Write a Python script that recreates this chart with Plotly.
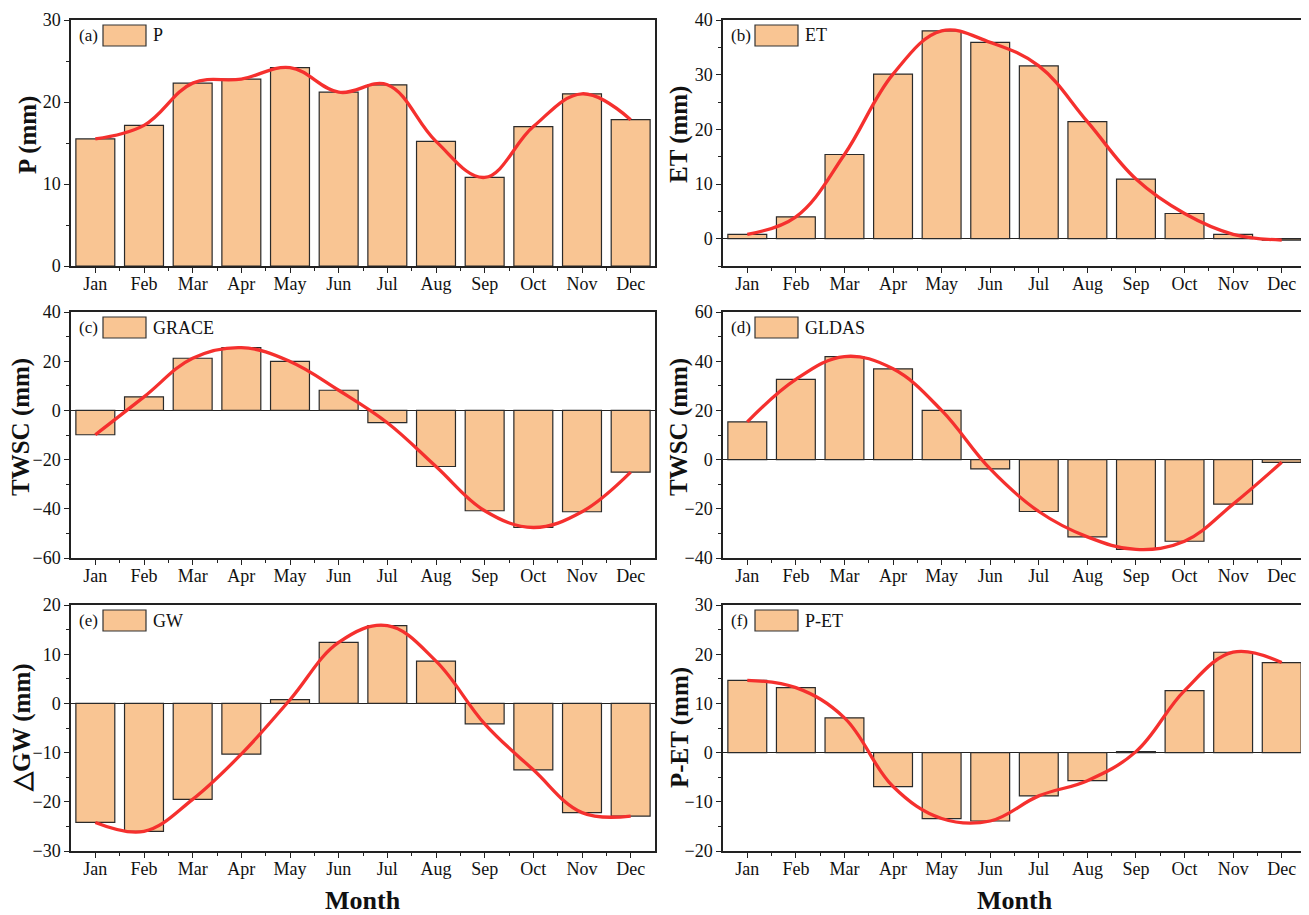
import plotly.graph_objects as go

MONTHS = ["Jan", "Feb", "Mar", "Apr", "May", "Jun", "Jul", "Aug", "Sep", "Oct", "Nov", "Dec"]

P_VALUES = [15.5, 17.15, 22.3, 22.8, 24.2, 21.2, 22.1, 15.2, 10.8, 17.0, 21.0, 17.85]
ET_VALUES = [0.8, 4.0, 15.4, 30.1, 38.0, 35.9, 31.6, 21.4, 10.9, 4.6, 0.8, -0.25]
GRACE_VALUES = [-9.9, 5.5, 21.2, 25.5, 19.9, 8.2, -5.0, -22.8, -40.8, -47.6, -41.2, -25.1]
GLDAS_VALUES = [15.3, 32.6, 41.9, 36.9, 20.0, -3.8, -21.1, -31.4, -36.5, -33.2, -18.1, -1.1]
GW_VALUES = [-24.2, -26.0, -19.5, -10.3, 0.75, 12.4, 15.8, 8.6, -4.15, -13.5, -22.2, -22.9]
PET_VALUES = [14.7, 13.2, 7.06, -6.9, -13.4, -13.9, -8.8, -5.7, 0.2, 12.6, 20.4, 18.3]

PANEL_TAGS = ["(a)", "(b)", "(c)", "(d)", "(e)", "(f)"]
SERIES_NAMES = ["P", "ET", "GRACE", "GLDAS", "GW", "P-ET"]
Y_TITLES = ["P (mm)", "ET (mm)", "TWSC (mm)", "TWSC (mm)", "\u25b3GW (mm)", "P-ET (mm)"]
Y_RANGES = [(0, 30), (-5, 40), (-60, 40), (-40, 60), (-30, 20), (-20, 30)]
Y_MAJOR = [10, 10, 20, 20, 10, 10]
SERIES = [P_VALUES, ET_VALUES, GRACE_VALUES, GLDAS_VALUES, GW_VALUES, PET_VALUES]

# page body has an 8px margin; work in reference pixels and shift
OFF = 8
W, H = 1309 - OFF, 915 - OFF
FONT = "Liberation Serif"
BAR_COLOR = "#F9C593"
LINE_COLOR = "#F5302E"
AX = "#222222"

# panel pixel boxes in reference coordinates
COLS = [(71, 655), (723, 1306)]
ROWS = [(20, 266), (312, 558), (605, 851)]
YTITLE_X = [[28, 679], [21, 679], [22, 680]]
YTITLE_DY = [-8, -8, 0]


def px(v):
    return (v - OFF) / W


def py(v):
    return 1 - (v - OFF) / H


fig = go.Figure()
x = list(range(len(MONTHS)))

for i, vals in enumerate(SERIES):
    r, c = divmod(i, 2)
    n = i + 1
    xa = "x" if n == 1 else f"x{n}"
    ya = "y" if n == 1 else f"y{n}"
    xkey = "xaxis" if n == 1 else f"xaxis{n}"
    ykey = "yaxis" if n == 1 else f"yaxis{n}"
    l, rr = COLS[c]
    t, b = ROWS[r]

    fig.add_trace(go.Bar(
        x=x, y=vals, width=0.8, xaxis=xa, yaxis=ya,
        marker=dict(color=BAR_COLOR, line=dict(color="#2a2a2a", width=1.2)),
        showlegend=False, name=SERIES_NAMES[i],
    ))
    fig.add_trace(go.Scatter(
        x=x, y=vals, mode="lines", xaxis=xa, yaxis=ya,
        line=dict(color=LINE_COLOR, width=3.3, shape="spline", smoothing=1.1),
        showlegend=False, hoverinfo="skip",
    ))

    ymin, ymax = Y_RANGES[i]
    fig.layout[xkey] = dict(
        domain=[px(l), px(rr)], anchor=ya, range=[-0.5, 11.5],
        tickmode="array", tickvals=x, ticktext=MONTHS,
        ticks="outside", ticklen=5, tickwidth=1.3, tickcolor=AX,
        ticklabelstandoff=-4,
        minor=dict(tickmode="array", tickvals=[v + 0.5 for v in x[:-1]],
                   ticks="outside", ticklen=3, tickwidth=1.2, tickcolor=AX),
        showline=True, linecolor=AX, linewidth=1.5, mirror=True,
        showgrid=False, zeroline=False, automargin=False,
        tickfont=dict(family=FONT, size=18, color="#111"),
        fixedrange=True,
    )
    fig.layout[ykey] = dict(
        domain=[py(b), py(t)], anchor=xa, range=[ymin, ymax],
        tickmode="linear", tick0=0, dtick=Y_MAJOR[i],
        ticks="outside", ticklen=5, tickwidth=1.3, tickcolor=AX,
        minor=dict(dtick=Y_MAJOR[i] / 2, ticks="outside", ticklen=3,
                   tickwidth=1.2, tickcolor=AX),
        showline=True, linecolor=AX, linewidth=1.5, mirror=True,
        showgrid=False, automargin=False,
        zeroline=ymin < 0, zerolinecolor=AX, zerolinewidth=1.2,
        tickfont=dict(family=FONT, size=18, color="#111"),
        fixedrange=True,
    )

    # y-axis title
    fig.add_annotation(
        x=px(YTITLE_X[r][c]), y=py((t + b) / 2 + YTITLE_DY[r]),
        xref="paper", yref="paper", text=f"<b>{Y_TITLES[i]}</b>",
        textangle=-90, showarrow=False, xanchor="center", yanchor="middle",
        font=dict(family=FONT, size=25, color="#111"),
    )

    pw, ph = rr - l, b - t
    # legend-like key inside each panel
    fig.add_annotation(
        x=6 / pw, y=1 - 15.5 / ph, xref=f"{xa} domain", yref=f"{ya} domain",
        text=PANEL_TAGS[i], showarrow=False, xanchor="left", yanchor="middle",
        font=dict(family=FONT, size=17, color="#111"),
    )
    fig.add_shape(
        type="rect", xref=f"{xa} domain", yref=f"{ya} domain",
        x0=32 / pw, x1=75 / pw, y0=1 - 26 / ph, y1=1 - 5 / ph,
        fillcolor=BAR_COLOR, line=dict(color="#333", width=1.2), layer="above",
    )
    fig.add_annotation(
        x=80 / pw, y=1 - 15.5 / ph, xref=f"{xa} domain", yref=f"{ya} domain",
        text=SERIES_NAMES[i], showarrow=False, xanchor="left", yanchor="middle",
        font=dict(family=FONT, size=18, color="#111"),
    )

# x-axis titles under the bottom row
for c in range(2):
    l, rr = COLS[c]
    fig.add_annotation(
        x=px((l + rr) / 2), y=py(900), xref="paper", yref="paper",
        text="<b>Month</b>", showarrow=False, xanchor="center", yanchor="middle",
        font=dict(family=FONT, size=26, color="#111"),
    )

fig.update_layout(
    width=W, height=H,
    margin=dict(l=0, r=0, t=0, b=0),
    paper_bgcolor="white", plot_bgcolor="white",
    bargap=0.2,
    font=dict(family=FONT, color="#111"),
)

fig.write_html("out.html")
